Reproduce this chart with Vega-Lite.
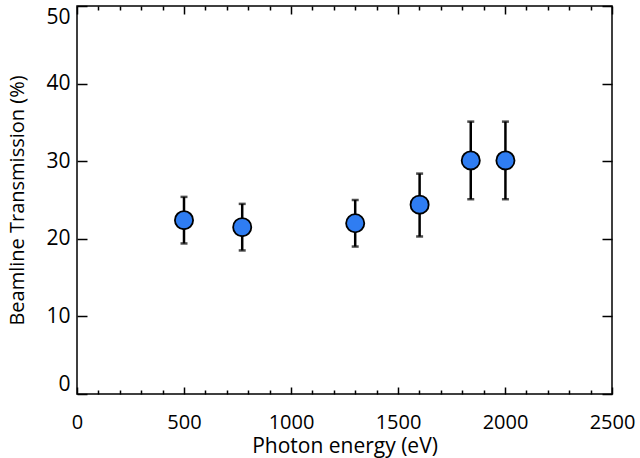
{
  "$schema": "https://vega.github.io/schema/vega-lite/v6.json",
  "width": 535,
  "height": 388,
  "autosize": "none",
  "padding": {"left": 77, "top": 6, "right": 28, "bottom": 64},
  "background": "white",
  "config": {
    "view": {"stroke": "black", "strokeWidth": 1.5},
    "font": "Open Sans",
    "axis": {"grid": false, "domain": false, "tickColor": "black", "tickWidth": 1.5, "labelColor": "black", "titleColor": "black", "labelFont": "Open Sans", "titleFont": "Open Sans", "titleFontWeight": "normal"}
  },
  "data": {
    "values": [
      {"energy": 500, "trans": 22.4, "lo": 19.4, "hi": 25.4},
      {"energy": 772, "trans": 21.5, "lo": 18.5, "hi": 24.5},
      {"energy": 1300, "trans": 22.0, "lo": 19.0, "hi": 25.0},
      {"energy": 1601, "trans": 24.4, "lo": 20.3, "hi": 28.4},
      {"energy": 1840, "trans": 30.1, "lo": 25.1, "hi": 35.1},
      {"energy": 2002, "trans": 30.1, "lo": 25.1, "hi": 35.1}
    ]
  },
  "resolve": {"axis": {"x": "independent", "y": "independent"}},
  "layer": [
    {
      "mark": {"type": "rule", "color": "black", "strokeWidth": 2.5},
      "encoding": {
        "x": {"field": "energy", "type": "quantitative", "scale": {"domain": [0, 2500], "nice": false},
          "axis": {"orient": "bottom", "title": "Photon energy (eV)", "format": "d", "values": [0, 500, 1000, 1500, 2000, 2500], "tickSize": -7, "labelPadding": 25, "labelFontSize": 20, "titleFontSize": 21, "titlePadding": 3, "labelFlush": false}},
        "y": {"field": "lo", "type": "quantitative", "scale": {"domain": [0, 50], "nice": false},
          "axis": {"orient": "left", "title": "Beamline Transmission (%)", "format": "d", "values": [0, 10, 20, 30, 40, 50], "tickSize": -10, "labelPadding": 17, "labelFontSize": 21, "titleFontSize": 20, "titlePadding": 18, "labelFlush": true}},
        "y2": {"field": "hi"}
      }
    },
    {
      "mark": {"type": "tick", "orient": "horizontal", "color": "black", "thickness": 2.5, "size": 7},
      "encoding": {
        "x": {"field": "energy", "type": "quantitative",
          "axis": {"orient": "bottom", "title": null, "labels": false, "values": [100, 200, 300, 400, 600, 700, 800, 900, 1100, 1200, 1300, 1400, 1600, 1700, 1800, 1900, 2100, 2200, 2300, 2400], "tickSize": -4}},
        "y": {"field": "hi", "type": "quantitative",
          "axis": {"orient": "right", "title": null, "labels": false, "values": [0, 10, 20, 30, 40, 50], "tickSize": -10}}
      }
    },
    {
      "mark": {"type": "tick", "orient": "horizontal", "color": "black", "thickness": 2.5, "size": 7},
      "encoding": {
        "x": {"field": "energy", "type": "quantitative",
          "axis": {"orient": "top", "title": null, "labels": false, "values": [0, 500, 1000, 1500, 2000, 2500], "tickSize": -8}},
        "y": {"field": "lo", "type": "quantitative", "axis": null}
      }
    },
    {
      "mark": {"type": "point", "shape": "circle", "filled": true, "size": 330, "color": "#2F7DF2", "stroke": "black", "strokeWidth": 1.8, "opacity": 1},
      "encoding": {
        "x": {"field": "energy", "type": "quantitative",
          "axis": {"orient": "top", "title": null, "labels": false, "values": [100, 200, 300, 400, 600, 700, 800, 900, 1100, 1200, 1300, 1400, 1600, 1700, 1800, 1900, 2100, 2200, 2300, 2400], "tickSize": -4}},
        "y": {"field": "trans", "type": "quantitative", "axis": null}
      }
    }
  ]
}
